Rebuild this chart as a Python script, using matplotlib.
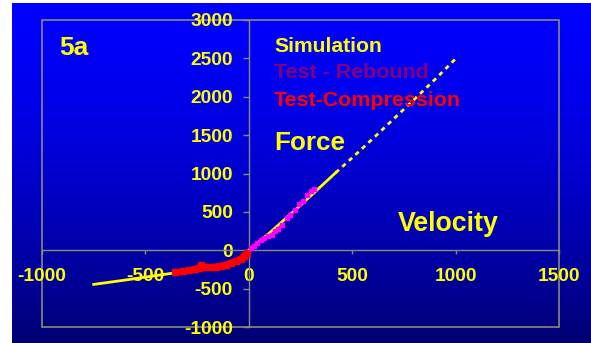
import matplotlib.pyplot as plt
import numpy as np
from matplotlib.patches import Rectangle

# Simulation curve (velocity, force)
sim_vel = [-750, -650, -550, -450, -350, -250, -150, -100, -50, -20, 0,
           100, 200, 300, 420, 500, 600, 700, 800, 900, 1000]
sim_force = [-445, -408, -370, -330, -292, -248, -200, -168, -122, -72, 0,
             225, 465, 710, 1010, 1205, 1455, 1710, 1965, 2225, 2495]

# Test - compression (red)
comp_vel = [-355, -320, -290, -260, -240, -230, -215, -190, -160, -135,
            -110, -85, -60, -40, -25, -10]
comp_force = [-288, -276, -262, -248, -225, -195, -215, -222, -212, -204,
              -186, -162, -140, -110, -80, -40]

# Test - rebound (magenta)
reb_vel = [10, 25, 40, 60, 75, 95, 110, 125, 140, 160, 185, 200, 225, 245,
           260, 280, 300, 315]
reb_force = [35, 60, 95, 135, 165, 180, 200, 245, 282, 330, 424, 455, 530,
             600, 640, 720, 770, 795]

xticks = [-1000, -500, 0, 500, 1000, 1500]
yticks = [-1000, -500, 0, 500, 1000, 1500, 2000, 2500, 3000]

W, H = 591, 343
YEL = '#FFFF00'
GRID = '#8a8a7a'
plt.rcParams['font.family'] = ['Liberation Sans', 'DejaVu Sans']
plt.rcParams['font.weight'] = 'bold'

fig = plt.figure(figsize=(W / 100, H / 100), dpi=100)
fig.patch.set_facecolor('white')

# blue gradient background
bg = fig.add_axes([12 / W, 0, 1 - 12 / W, 1 - 3 / H])
t = np.linspace(0, 1, 256)[:, None]
blue = 255 - 140 * t ** 1.5
grad = np.dstack([np.zeros_like(blue), np.zeros_like(blue), blue]) / 255.0
bg.imshow(grad, aspect='auto', extent=[0, 1, 0, 1], origin='upper')
bg.axis('off')

ax = fig.add_axes([42 / W, 1 - 327 / H, (559 - 42) / W, (327 - 20) / H])
ax.patch.set_alpha(0)
ax.set_xlim(-1000, 1500)
ax.set_ylim(-1000, 3000)

# axes through the origin
ax.spines['left'].set_position(('data', 0))
ax.spines['bottom'].set_position(('data', 0))
ax.spines['right'].set_visible(False)
ax.spines['top'].set_visible(False)
for s in ['left', 'bottom']:
    ax.spines[s].set_color(GRID)
    ax.spines[s].set_linewidth(1.0)
ax.add_patch(Rectangle((0, 0), 1, 1, transform=ax.transAxes, fill=False,
                       edgecolor=GRID, lw=1.2, clip_on=False))

ax.set_xticks(xticks)
ax.set_yticks(yticks)
ax.set_xticklabels([str(v) for v in xticks])
ax.set_yticklabels([str(v) for v in yticks])
ax.tick_params(axis='x', direction='out', length=3, width=1, color=GRID,
               labelcolor=YEL, labelsize=13.8, pad=10)
ax.tick_params(axis='y', direction='out', length=4.5, width=1, color=GRID,
               labelcolor=YEL, labelsize=13.8, pad=7)
for lab in ax.get_xticklabels() + ax.get_yticklabels():
    lab.set_fontweight('bold')

sv = np.array(sim_vel)
sf = np.array(sim_force)
lo = sv <= 420
hi = sv >= 420
ax.plot(sv[lo], sf[lo], color=YEL, lw=2.0, zorder=3)
ax.plot(sv[hi], sf[hi], color=YEL, lw=2.0, dashes=(1.6, 1.6), zorder=3)

ax.plot(comp_vel, comp_force, color='#FF0000', lw=4.5, marker='s', ms=4,
        zorder=4, solid_capstyle='butt')
ax.plot(reb_vel, reb_force, ls='none', color='#FF00FF', marker='s', ms=3.2,
        zorder=4)


def ftext(x, y, s, size, color, **kw):
    fig.text(x / W, 1 - y / H, s, fontsize=size, color=color,
             fontweight='bold', va='center', ha='left', **kw)


ftext(59, 48, '5a', 19, YEL)
ftext(274, 47, 'Simulation', 15.2, YEL)
ftext(274, 72, 'Test - Rebound', 15.4, '#800080')
ftext(274, 100, 'Test-Compression', 15.4, '#FF0000')
ftext(274, 143, 'Force', 18.8, YEL)
ftext(398, 224, 'Velocity', 19.3, YEL)

fig.savefig('out.png', dpi=100)
